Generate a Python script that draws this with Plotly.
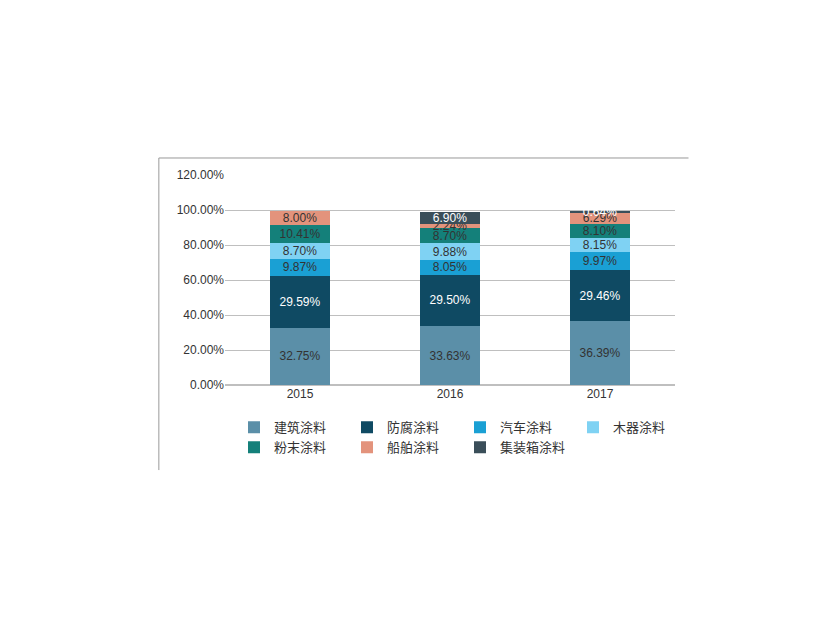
import plotly.graph_objects as go

years = ['2015', '2016', '2017']
names = ['建筑涂料', '防腐涂料', '汽车涂料', '木器涂料', '粉末涂料', '船舶涂料', '集装箱涂料']
jianzhu = [32.75, 33.63, 36.39]
fangfu = [29.59, 29.50, 29.46]
qiche = [9.87, 8.05, 9.97]
muqi = [8.70, 9.88, 8.15]
fenmo = [10.41, 8.70, 8.10]
chuanbo = [8.00, 2.24, 6.29]
jizhuangxiang = [0, 6.90, 0.64]

series = [jianzhu, fangfu, qiche, muqi, fenmo, chuanbo, jizhuangxiang]
colors = ['#5b8fa8', '#0f4a63', '#1aa0d4', '#7fd2f3', '#14807a', '#e3937c', '#3a4e59']
textcolors = ['#333', 'white', '#333', '#333', '#333', '#333', 'white']

fig = go.Figure()
for name, vals, c, tc in zip(names, series, colors, textcolors):
    fig.add_trace(go.Bar(
        x=years, y=vals, name=name, marker_color=c, marker_line_width=0,
        text=[f'{v:.2f}%' if v > 0 else '' for v in vals],
        textposition='inside', insidetextanchor='middle',
        textfont=dict(color=tc, size=12), constraintext='none',
    ))

fig.update_layout(
    barmode='stack', bargap=0.6,
    width=840, height=630,
    margin=dict(l=217, r=173, t=167, b=253),
    paper_bgcolor='white', plot_bgcolor='white',
    font=dict(family='Liberation Sans, Noto Sans CJK SC', size=12, color='#333'),
    uniformtext=dict(minsize=12, mode='show'),
    yaxis=dict(range=[0, 120], dtick=20, ticksuffix='.00%', showgrid=True,
               gridcolor='#bfbfbf', zeroline=True, zerolinecolor='#bfbfbf',
               ticks='', ticklen=0),
    xaxis=dict(showline=False, tickfont=dict(size=12)),
    legend=dict(orientation='h', x=0.02, y=-0.13, xanchor='left', yanchor='top',
                entrywidth=68, font=dict(size=13), traceorder='normal',
                itemwidth=30, tracegroupgap=0),
    shapes=[
        dict(type='line', xref='paper', yref='paper', x0=-0.147, x1=1.03,
             y0=1.081, y1=1.081, line=dict(color='#999', width=1)),
        dict(type='line', xref='paper', yref='paper', x0=-0.147, x1=-0.147,
             y0=1.081, y1=-0.405, line=dict(color='#999', width=1)),
    ],
)

fig.write_html('out.html')
